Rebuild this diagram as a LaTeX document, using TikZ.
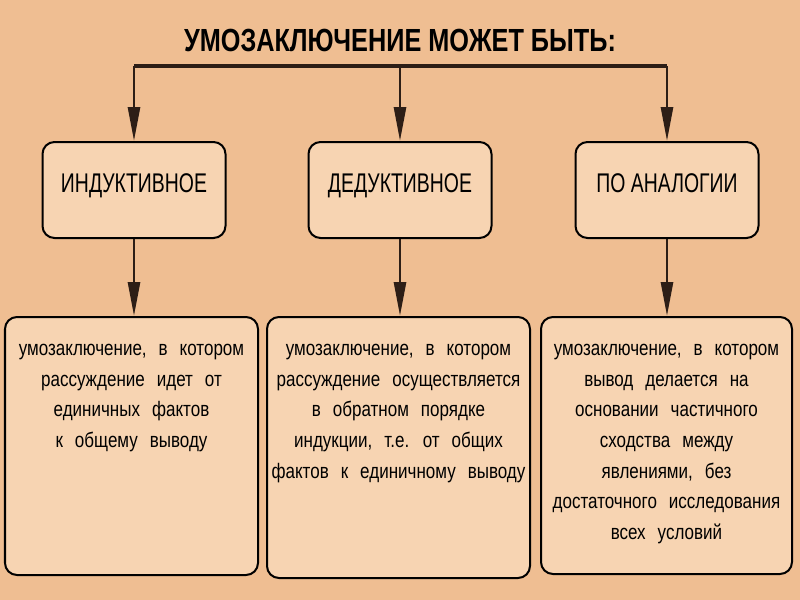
\documentclass[tikz,border=0pt]{standalone}
\usepackage{fontspec}
\setmainfont{Liberation Sans}
\newfontfamily\headfont{Liberation Sans}[FakeStretch=0.79]
\newfontfamily\kindfont{Liberation Sans}[FakeStretch=0.72]
\newfontfamily\deffont{Liberation Sans}[FakeStretch=0.81]
\newcommand\widespaces{\spaceskip=6pt plus 1pt minus 1pt\relax}
\usetikzlibrary{arrows.meta,positioning}
\definecolor{peachbg}{RGB}{239,190,146}
\definecolor{peachbox}{RGB}{247,212,178}
\definecolor{darkline}{RGB}{45,30,22}

\begin{document}
\begin{tikzpicture}[x=0.5pt, y=-0.5pt,
      kindbox/.style={rectangle, rounded corners=6pt, draw=black, line width=1pt, fill=peachbox,
                      minimum width=91.5pt, minimum height=48pt, text depth=7pt,
                      font=\kindfont\fontsize{13.5}{16}\selectfont},
      defbox/.style={rectangle, rounded corners=6pt, draw=black, line width=1pt, fill=peachbox},
      deftext/.style={inner sep=0pt, align=center,
                      font=\deffont\fontsize{10.5}{15.3}\selectfont\widespaces},
      link/.style={draw=darkline, line width=1.4pt, -{Triangle[length=17pt,width=6pt]}}]
    \fill[peachbg] (0,0) rectangle (800,600);
    \useasboundingbox (0,0) rectangle (800,600);
    \node[font=\headfont\bfseries\fontsize{16}{18}\selectfont] (head) at (400,40) {УМОЗАКЛЮЧЕНИЕ МОЖЕТ БЫТЬ:};
    \node[kindbox] (kind1) at (134,190) {ИНДУКТИВНОЕ};
    \node[kindbox] (kind2) at (400,190) {ДЕДУКТИВНОЕ};
    \node[kindbox] (kind3) at (667,190) {ПО АНАЛОГИИ};
    \node[defbox, minimum width=126.5pt, minimum height=129pt] (def1) at (131.5,446) {};
    \node[defbox, minimum width=131.5pt, minimum height=130.5pt] (def2) at (398.5,447.5) {};
    \node[defbox, minimum width=125.5pt, minimum height=128.5pt] (def3) at (666.5,445.5) {};
    \node[deftext, below=14pt of def1.north] (text1)
      {умозаключение, в котором\\рассуждение идет от\\единичных фактов\\к общему выводу};
    \node[deftext, below=14pt of def2.north] (text2)
      {умозаключение, в котором\\рассуждение осуществляется\\в обратном порядке\\индукции, т.е. от общих\\фактов к единичному выводу};
    \node[deftext, below=14pt of def3.north] (text3)
      {умозаключение, в котором\\вывод делается на\\основании частичного\\сходства между\\явлениями, без\\достаточного исследования\\всех условий};
    % connectors
    \coordinate (bar) at (400,66);
    \draw[darkline, line width=2pt] (kind1.north |- bar) -- (kind3.north |- bar);
    \foreach \i in {1,2,3}
      \draw[link] (kind\i.north |- bar) -- (kind\i.north);
    \foreach \i in {1,2,3}
      \draw[link] (kind\i.south) -- (kind\i.south |- def\i.north);
  \end{tikzpicture}
\end{document}
